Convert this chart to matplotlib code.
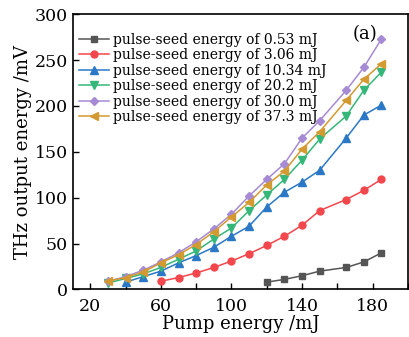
import matplotlib
matplotlib.use("Agg")
import matplotlib.pyplot as plt
from matplotlib.ticker import MultipleLocator

plt.rcParams['font.family'] = ['DejaVu Serif']
plt.rcParams['mathtext.fontset'] = 'dejavuserif'

# pump energy (mJ) for each series
x_053 = [120, 130, 140, 150, 165, 175, 185]
x_306 = [60, 70, 80, 90, 100, 110, 120, 130, 140, 150, 165, 175, 185]
x_1034 = [40, 50, 60, 70, 80, 90, 100, 110, 120, 130, 140, 150, 165, 175, 185]
x_full = [30, 40, 50, 60, 70, 80, 90, 100, 110, 120, 130, 140, 150, 165, 175, 185]

# THz output (mV)
y_053 = [8, 11, 15, 20, 24, 30, 40]
y_306 = [9, 13, 18, 24, 31, 39, 48, 58, 70, 86, 98, 108, 120]
y_1034 = [8, 14, 20, 29, 37, 46, 58, 69, 90, 106, 117, 130, 165, 190, 201]
y_202 = [7, 12, 17, 24, 33, 42, 55, 67, 86, 103, 120, 141, 164, 189, 217, 237]
y_300 = [9, 14, 21, 30, 40, 52, 66, 82, 102, 120, 137, 165, 184, 217, 242, 273]
y_373 = [9, 13, 19, 29, 38, 49, 63, 79, 95, 114, 129, 153, 172, 206, 229, 246]

labels = ["pulse-seed energy of 0.53 mJ",
          "pulse-seed energy of 3.06 mJ",
          "pulse-seed energy of 10.34 mJ",
          "pulse-seed energy of 20.2 mJ",
          "pulse-seed energy of 30.0 mJ",
          "pulse-seed energy of 37.3 mJ"]

fig = plt.figure(figsize=(4.1, 3.37), dpi=100)
ax = fig.add_axes([0.1773, 0.141, 0.8177, 0.817])

series = [
    (x_053, y_053, '#555555', 's', 4.5),
    (x_306, y_306, '#f2474d', 'o', 5),
    (x_1034, y_1034, '#2a78c6', '^', 5.5),
    (x_full, y_202, '#34b779', 'v', 5.5),
    (x_full, y_300, '#a68ad4', 'D', 4.5),
    (x_full, y_373, '#d49a32', '<', 5.5),
]
for (xs, ys, c, m, ms), lab in zip(series, labels):
    ax.plot(xs, ys, color=c, marker=m, markersize=ms, linewidth=1.1, label=lab)

ax.set_xlim(10, 200)
ax.set_ylim(0, 300)
ax.xaxis.set_minor_locator(MultipleLocator(20))
ax.set_xticks([20, 60, 100, 140, 180])
ax.yaxis.set_major_locator(MultipleLocator(50))
ax.tick_params(axis='both', which='both', direction='in', labelsize=12.5, width=1, length=4)
ax.tick_params(axis='x', which='major', pad=6)
for s in ax.spines.values():
    s.set_linewidth(1.2)

ax.set_xlabel("Pump energy /mJ", fontsize=13, labelpad=0)
ax.set_ylabel("THz output energy /mV", fontsize=13, labelpad=2)

ax.text(0.835, 0.91, "(a)", transform=ax.transAxes, fontsize=13)

ax.legend(loc='upper left', bbox_to_anchor=(-0.005, 0.962), frameon=False,
          fontsize=10, handlelength=2.1, handletextpad=0.3,
          labelspacing=0.1, borderaxespad=0.2)

fig.savefig("out.png", dpi=100)
